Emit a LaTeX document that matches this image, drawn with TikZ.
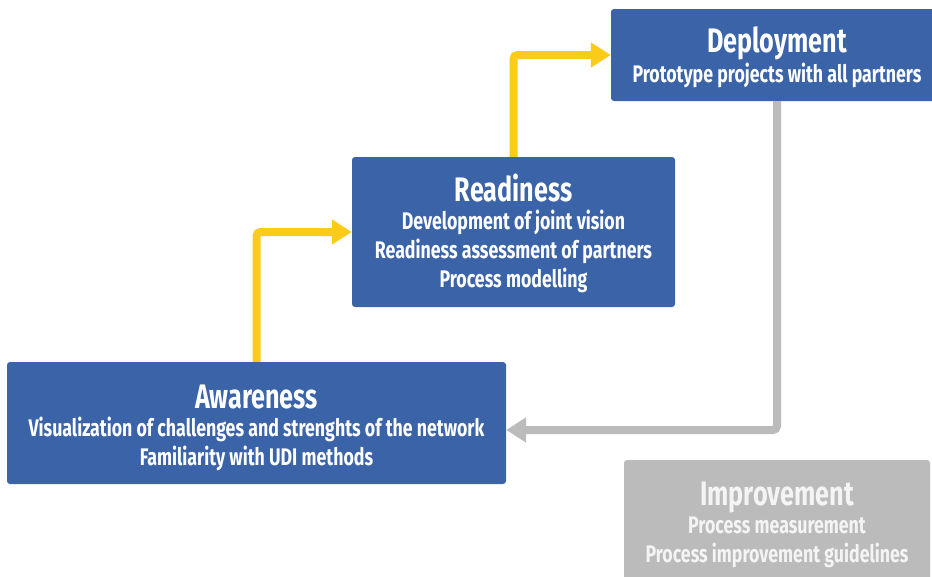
\documentclass[tikz,border=0pt]{standalone}
\usepackage{fontspec}
\setmainfont{Fira Sans}[FakeStretch=0.74]
\usetikzlibrary{arrows.meta}
\definecolor{boxblue}{HTML}{3A63A8}
\definecolor{arryellow}{HTML}{FBCB1A}
\definecolor{boxgray}{HTML}{BBBBBB}
\definecolor{txtgray}{HTML}{F4F4F4}
\tikzset{
  phasebox/.style={rectangle, rounded corners=3pt, fill=boxblue, draw=none, inner sep=0pt},
  graybox/.style={rectangle, rounded corners=3pt, fill=boxgray, draw=none, inner sep=0pt},
  phasetext/.style={align=center, text=white, inner sep=0pt, anchor=north,
    font=\bfseries\fontsize{24}{29}\selectfont},
  yarrow/.style={draw=arryellow, line width=8pt, rounded corners=4pt,
    -{Triangle[length=20pt,width=24pt]}},
  garrow/.style={draw=boxgray, line width=8pt, rounded corners=4pt,
    -{Triangle[length=20pt,width=24pt]}},
}
\newcommand{\phtitle}[1]{{\fontsize{34}{34}\selectfont #1}}
\begin{document}
\begin{tikzpicture}[x=1pt,y=-1pt]
\useasboundingbox (0,0) rectangle (932,576);
\clip (0,0) rectangle (932,576);
% boxes
\node[phasebox, minimum width=332pt, minimum height=92pt] (dp) at (777,55) {};
\node[phasebox, minimum width=323pt, minimum height=150pt] (rd) at (513.5,232) {};
\node[phasebox, minimum width=499pt, minimum height=122pt] (aw) at (256.5,423) {};
\node[graybox, minimum width=306pt, minimum height=140pt] (im) at (777,530) {};
% texts
\node[phasetext] (dpT) at (777,26) {\phtitle{Deployment}\\[1pt]Prototype projects with all partners};
\node[phasetext] (rdT) at (513.5,174) {\phtitle{Readiness}\\[-1pt]Development of joint vision\\Readiness assessment of partners\\Process modelling};
\node[phasetext] (awT) at (256.5,385) {\phtitle{Awareness}\\[-1pt]Visualization of challenges and strenghts of the network\\Familiarity with UDI methods};
\node[phasetext, text=txtgray] (imT) at (777,482) {\phtitle{Improvement}\\[-1pt]Process measurement\\Process improvement guidelines};
% connectors
\draw[yarrow] (aw.north) |- (rd.west);
\draw[yarrow] (rd.north) |- (dp.west);
\coordinate (awin) at ([yshift=-7pt]aw.east);
\draw[garrow] (dp.south) |- (awin);
\end{tikzpicture}
\end{document}
